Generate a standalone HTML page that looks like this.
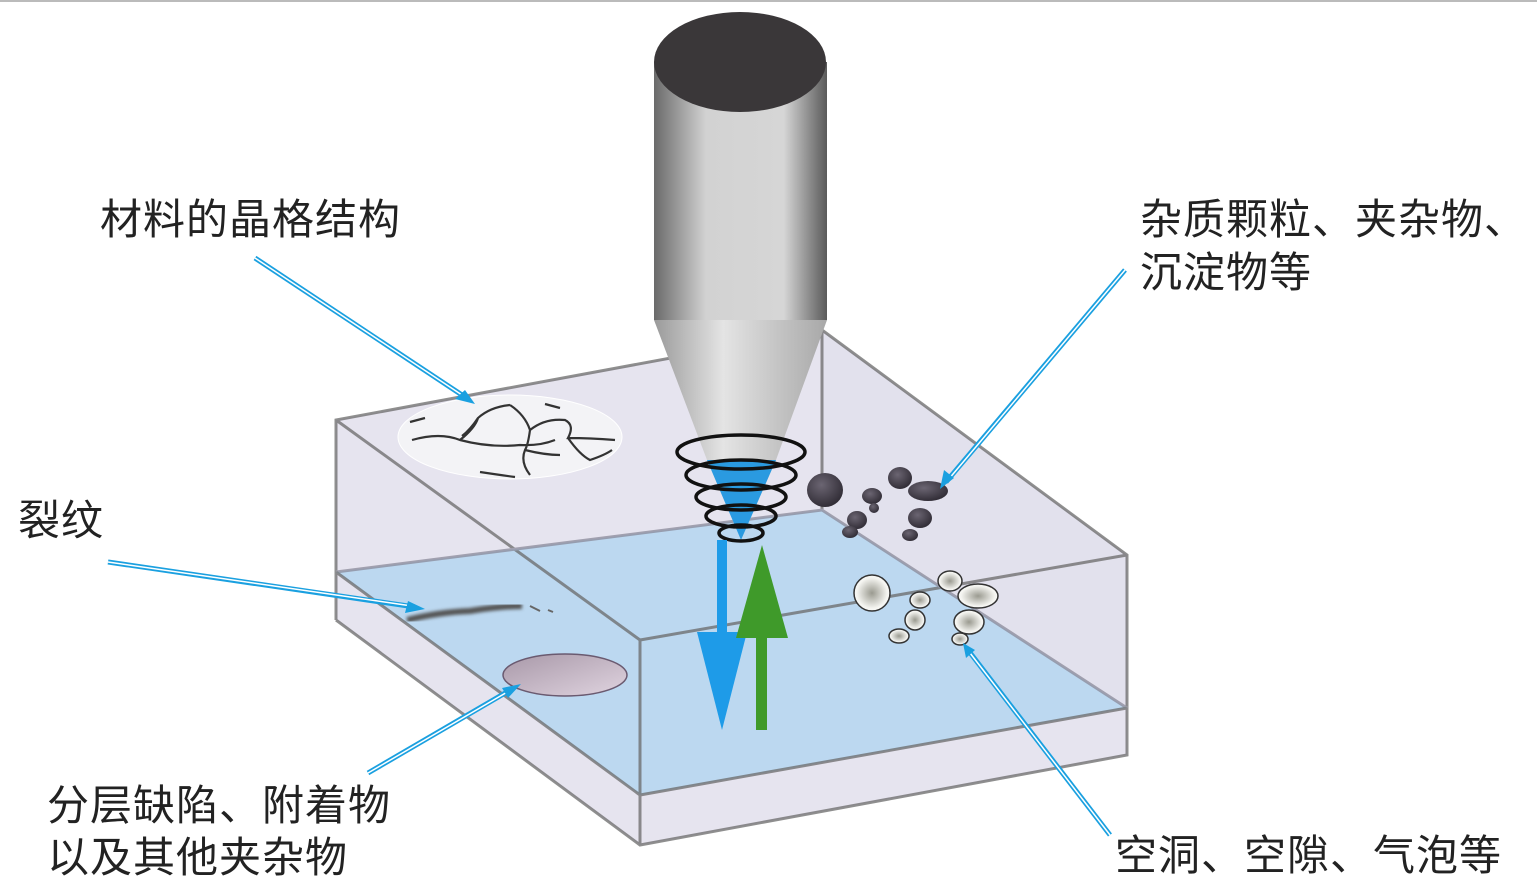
<!DOCTYPE html>
<html><head><meta charset="utf-8"><style>
html,body{margin:0;padding:0;background:#fff;}
.t{position:absolute;font-family:"Liberation Sans","Noto Sans CJK SC",sans-serif;font-size:42px;letter-spacing:1px;color:#222;white-space:nowrap;line-height:1;}
</style></head><body>
<div style="position:relative;width:1537px;height:896px;overflow:hidden;">
<svg width="1537" height="896" style="position:absolute;left:0;top:0">
<defs>
<linearGradient id="cyl" x1="0" x2="1" y1="0" y2="0">
<stop offset="0" stop-color="#6a6a6a"/><stop offset="0.3" stop-color="#d2d2d2"/><stop offset="0.75" stop-color="#d6d6d6"/><stop offset="1" stop-color="#5a5a5a"/>
</linearGradient>
<linearGradient id="cone" x1="0" x2="1" y1="0" y2="0">
<stop offset="0" stop-color="#9a9a9a"/><stop offset="0.4" stop-color="#e4e4e4"/><stop offset="1" stop-color="#a8a8a8"/>
</linearGradient>
<radialGradient id="dk" cx="0.4" cy="0.35" r="0.7"><stop offset="0" stop-color="#6b6572"/><stop offset="1" stop-color="#2e2a33"/></radialGradient>
<radialGradient id="wt" cx="0.5" cy="0.5" r="0.6"><stop offset="0" stop-color="#9a9a90"/><stop offset="0.7" stop-color="#f4f4f0"/><stop offset="1" stop-color="#fff"/></radialGradient>
<linearGradient id="disc" x1="0" x2="1" y1="0" y2="1"><stop offset="0" stop-color="#a898a8"/><stop offset="1" stop-color="#e0d4e0"/></linearGradient>
<filter id="bl"><feGaussianBlur stdDeviation="1.5"/></filter>
</defs>
<line x1="0" y1="1" x2="1537" y2="1" stroke="#bbb" stroke-width="2"/>
<!-- box -->
<polygon points="336,420 822,330 1127,555 1127,755 640,845 336,620" fill="#e6e4ef"/>
<polygon points="336,572 822,510 1127,708 640,795" fill="#bcd8f0"/>
<polygon points="822,330 1127,555 1127,708 822,510" fill="#dcdcec" opacity="0.4"/>
<g stroke="#6a6a6a" stroke-width="3" fill="none" opacity="0.75">
<polyline points="336,620 336,420 822,330 1127,555 1127,755 640,845 336,620"/>
<polyline points="336,420 640,640 1127,555"/>
<line x1="640" y1="640" x2="640" y2="845"/>
<line x1="822" y1="330" x2="822" y2="510"/>
<polyline points="336,572 822,510 1127,708" stroke="#8a8a9a"/>
<polyline points="336,572 640,795 1127,708"/>
</g>
<!-- grain circle -->
<ellipse cx="510" cy="437" rx="112" ry="42" fill="#f3f3f6" stroke="#fff"/>
<g stroke="#333" stroke-width="2.2" fill="none">
<path d="M410,422 L425,418 M412,440 Q440,432 460,440 Q475,428 478,418 Q490,407 510,405 M478,418 Q470,430 462,436 M460,440 Q490,448 520,445 Q540,446 555,440 M510,405 Q525,415 530,430 Q528,445 525,450 Q520,462 530,475 M530,430 Q545,418 565,420 Q575,425 568,438 Q590,438 615,440 M568,438 Q580,455 590,460 Q605,455 612,450 M525,450 Q545,455 560,455 M480,472 Q500,475 515,477 M545,404 L560,408"/>
</g>
<!-- crack -->
<path d="M407,620 Q440,612 470,611 Q500,606 522,606" stroke="#555" stroke-width="6" fill="none" filter="url(#bl)"/>
<path d="M530,606 L540,611 M548,610 L553,612" stroke="#666" stroke-width="2"/>
<!-- disc -->
<ellipse cx="565" cy="675" rx="62" ry="21" fill="url(#disc)" stroke="#6a5a70" stroke-width="1.5"/>
<!-- dark particles -->
<g fill="url(#dk)">
<ellipse cx="825" cy="490" rx="18" ry="17"/><ellipse cx="900" cy="478" rx="12" ry="11"/><ellipse cx="928" cy="491" rx="20" ry="10"/>
<ellipse cx="872" cy="496" rx="10" ry="8"/><ellipse cx="857" cy="520" rx="10" ry="9"/><ellipse cx="920" cy="518" rx="12" ry="10"/>
<ellipse cx="850" cy="532" rx="8" ry="6"/><ellipse cx="910" cy="535" rx="8" ry="6"/><ellipse cx="874" cy="508" rx="5" ry="5"/>
</g>
<!-- voids -->
<g fill="url(#wt)" stroke="#333" stroke-width="1.5">
<ellipse cx="872" cy="593" rx="18" ry="18"/><ellipse cx="950" cy="581" rx="12" ry="10"/><ellipse cx="978" cy="596" rx="20" ry="12"/>
<ellipse cx="920" cy="600" rx="10" ry="8"/><ellipse cx="915" cy="620" rx="10" ry="10"/><ellipse cx="969" cy="622" rx="15" ry="12"/>
<ellipse cx="899" cy="636" rx="10" ry="7"/><ellipse cx="960" cy="639" rx="8" ry="6"/>
</g>
<!-- transducer -->
<polygon points="654,320 827,320 776,460 741,540 707,460" fill="url(#cone)"/>
<polygon points="707,460 776,460 741,540" fill="#2a9ae0"/>
<rect x="654" y="62" width="173" height="258" fill="url(#cyl)"/>
<ellipse cx="740" cy="62" rx="86" ry="50" fill="#3a3739"/>
<g fill="none" stroke="#111" stroke-width="3.5">
<ellipse cx="741" cy="452" rx="64" ry="17"/><ellipse cx="741" cy="475" rx="55" ry="15"/>
<ellipse cx="741" cy="497" rx="45" ry="13"/><ellipse cx="741" cy="516" rx="35" ry="11"/><ellipse cx="741" cy="533" rx="22" ry="8"/>
</g>
<!-- arrows -->
<rect x="717" y="540" width="10" height="100" fill="#1e9be8"/>
<polygon points="697,632 747,632 722,730" fill="#1e9be8"/>
<rect x="756" y="630" width="11" height="100" fill="#3f9a2a"/>
<polygon points="736,638 788,638 762,545" fill="#3f9a2a"/>
<!-- callouts -->
<g stroke="#1aa0e0" stroke-width="5" fill="none">
<line x1="255" y1="258" x2="465" y2="397"/><line x1="1125" y1="270" x2="946" y2="482"/>
<line x1="108" y1="562" x2="415" y2="607"/><line x1="368" y1="773" x2="512" y2="689"/>
<line x1="1110" y1="835" x2="968" y2="650"/>
</g>
<g stroke="#fff" stroke-width="1.5" fill="none">
<line x1="255" y1="258" x2="462" y2="395"/><line x1="1125" y1="270" x2="948" y2="480"/>
<line x1="108" y1="562" x2="412" y2="606"/><line x1="368" y1="773" x2="509" y2="691"/>
<line x1="1110" y1="835" x2="970" y2="653"/>
</g>
<g fill="#1aa0e0">
<polygon points="475,404 455,399 465,390"/><polygon points="940,489 944,470 954,478"/>
<polygon points="425,609 405,613 408,601"/><polygon points="521,684 508,698 502,688"/>
<polygon points="963,643 975,650 966,658"/>
</g>
</svg>
<div class="t" style="left:100px;top:199px">材料的晶格结构</div>
<div class="t" style="left:1140px;top:199px">杂质颗粒、夹杂物、</div>
<div class="t" style="left:1140px;top:252px">沉淀物等</div>
<div class="t" style="left:18px;top:500px">裂纹</div>
<div class="t" style="left:47px;top:785px">分层缺陷、附着物</div>
<div class="t" style="left:47px;top:837px">以及其他夹杂物</div>
<div class="t" style="left:1115px;top:835px">空洞、空隙、气泡等</div>
</div>
</body></html>
